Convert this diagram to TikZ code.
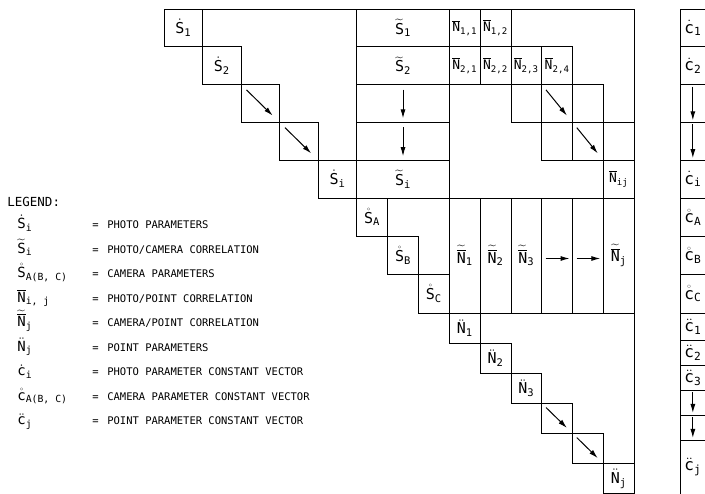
\documentclass[tikz,border=0pt]{standalone}
\usepackage{amsmath}
\usepackage{fontspec}
\setmonofont{DejaVu Sans Mono}
\usetikzlibrary{arrows.meta, calc}

\newcommand{\lbl}[3]{$#1{\text{\ttfamily #2}}_{\text{\ttfamily #3}}$}
\newcommand{\tovl}[1]{\widetilde{\overline{#1}}}

\begin{document}
\begin{tikzpicture}[x=1pt, y=-1pt, line width=0.7pt,
  box/.style={draw, inner sep=0pt, outer sep=0pt, anchor=north west,
    font=\fontsize{15}{17}\selectfont},
  pcell/.style={box, minimum width=38.54pt, minimum height=37.8pt},
  scell/.style={box, minimum width=92.6pt, minimum height=37.8pt},
  ncell/.style={box, minimum width=30.8pt, minimum height=37.8pt,
    font=\fontsize{13}{15}\selectfont},
  ccell/.style={box, minimum width=30.87pt, minimum height=38.33pt},
  wcell/.style={box, minimum width=30.8pt, minimum height=115pt},
  qcell/.style={box, minimum width=30.8pt, minimum height=30.1pt},
  vcell/.style={box, minimum width=24.3pt, minimum height=#1pt,
    font=\fontsize{16}{18}\selectfont},
  flow/.style={-{Latex[length=9pt,width=5pt]}, line width=1pt},
  legsym/.style={anchor=base west, inner sep=0pt, font=\fontsize{14}{16}\selectfont},
  legtxt/.style={anchor=base west, inner sep=0pt, font=\ttfamily\fontsize{10.5}{12}\selectfont},
]
\clip (0,0) rectangle (705,494);
% photo parameter diagonal
\foreach \k/\nm/\txt in {0/s1/{\lbl{\dot}{S}{1}}, 1/s2/{\lbl{\dot}{S}{2}},
  2/s3/{}, 3/s4/{}, 4/si/{\lbl{\dot}{S}{i}}}
  \node[pcell] (\nm) at ({164+\k*38.54},{9+\k*37.8}) {\txt};
% photo/camera column
\foreach \k/\nm/\txt in {0/t1/{\lbl{\widetilde}{S}{1}}, 1/t2/{\lbl{\widetilde}{S}{2}},
  2/t3/{}, 3/t4/{}, 4/ti/{\lbl{\widetilde}{S}{i}}}
  \node[scell] (\nm) at (356.7,{9+\k*37.8}) {\txt};
% photo/point band
\foreach \c/\r/\nm/\txt in {
  0/0/n11/{\lbl{\overline}{N}{1,1}}, 1/0/n12/{\lbl{\overline}{N}{1,2}},
  0/1/n21/{\lbl{\overline}{N}{2,1}}, 1/1/n22/{\lbl{\overline}{N}{2,2}},
  2/1/n23/{\lbl{\overline}{N}{2,3}}, 3/1/n24/{\lbl{\overline}{N}{2,4}},
  2/2/e33/{}, 3/2/a34/{}, 4/2/e35/{},
  3/3/e44/{}, 4/3/a45/{},
  5/4/nij/{\lbl{\overline}{N}{ij}}%
}
  \node[ncell] (\nm) at ({449.3+\c*30.8},{9+\r*37.8}) {\txt};
\draw (e35.south east) -- (e35.south east -| nij.east);
\draw (ti.south east) -- (nij.south west);
% camera parameter diagonal
\foreach \k/\nm/\txt in {0/sa/{\lbl{\mathring}{S}{A}}, 1/sb/{\lbl{\mathring}{S}{B}},
  2/sc/{\lbl{\mathring}{S}{C}}}
  \node[ccell] (\nm) at ({356.7+\k*30.87},{198+\k*38.33}) {\txt};
% camera/point columns
\foreach \c/\nm/\txt in {0/w1/{\lbl{\tovl}{N}{1}}, 1/w2/{\lbl{\tovl}{N}{2}},
  2/w3/{\lbl{\tovl}{N}{3}}, 3/w4/{}, 4/w5/{}, 5/wj/{\lbl{\tovl}{N}{j}}}
  \node[wcell] (\nm) at ({449.3+\c*30.8},198) {\txt};
% point parameter diagonal
\foreach \k/\nm/\txt in {0/q1/{\lbl{\ddot}{N}{1}}, 1/q2/{\lbl{\ddot}{N}{2}},
  2/q3/{\lbl{\ddot}{N}{3}}, 3/q4/{}, 4/q5/{}, 5/qj/{\lbl{\ddot}{N}{j}}}
  \node[qcell] (\nm) at ({449.3+\k*30.8},{313+\k*30.1}) {\txt};
% outer frame
\draw (s1.north west) -- (s1.north west -| qj.east) -- (qj.north east);
% constant vector
\foreach \y/\h/\nm/\txt in {
  9/37.8/v1/{\lbl{\dot}{c}{1}},
  46.8/37.8/v2/{\lbl{\dot}{c}{2}},
  84.6/37.8/v3/{},
  122.4/37.8/v4/{},
  160.2/37.8/vi/{\lbl{\dot}{c}{i}},
  198/38.33/va/{\lbl{\mathring}{c}{A}},
  236.33/38.33/vb/{\lbl{\mathring}{c}{B}},
  274.67/38.33/vc/{\lbl{\mathring}{c}{C}},
  313/27/u1/{\lbl{\ddot}{c}{1}},
  340/25/u2/{\lbl{\ddot}{c}{2}},
  365/25/u3/{\lbl{\ddot}{c}{3}},
  390/25/u4/{},
  415/25/u5/{},
  440/54/uj/{\lbl{\ddot}{c}{j}}%
}
  \node[vcell=\h] (\nm) at (680.7,\y) {\txt};
% arrows
\foreach \nm in {s3, s4, a34, a45, q4, q5}
  \draw[flow] ($(\nm.north west)!0.14!(\nm.south east)$) -- ($(\nm.north west)!0.82!(\nm.south east)$);
\foreach \nm in {t3, t4}
  \draw[flow] ($(\nm.north)+(0,5)$) -- ($(\nm.south)+(0,-4)$);
\foreach \nm in {v3, v4, u4, u5}
  \draw[flow] ($(\nm.north)+(0,2)$) -- ($(\nm.south)+(0,-2)$);
\foreach \nm in {w4, w5}
  \draw[flow] ($(\nm.west)+(4,3)$) -- ($(\nm.east)+(-3,3)$);
% legend
\node[legtxt, font=\ttfamily\fontsize{12.5}{14}\selectfont] (legend) at (7,207) {LEGEND:};
\foreach \k/\sym/\txt in {
  0/{\lbl{\dot}{S}{i}}/{PHOTO PARAMETERS},
  1/{\lbl{\widetilde}{S}{i}}/{PHOTO/CAMERA CORRELATION},
  2/{\lbl{\mathring}{S}{A(B, C)}}/{CAMERA PARAMETERS},
  3/{\lbl{\overline}{N}{i, j}}/{PHOTO/POINT CORRELATION},
  4/{\lbl{\tovl}{N}{j}}/{CAMERA/POINT CORRELATION},
  5/{\lbl{\ddot}{N}{j}}/{POINT PARAMETERS},
  6/{\lbl{\dot}{c}{i}}/{PHOTO PARAMETER CONSTANT VECTOR},
  7/{\lbl{\mathring}{c}{A(B, C)}}/{CAMERA PARAMETER CONSTANT VECTOR},
  8/{\lbl{\ddot}{c}{j}}/{POINT PARAMETER CONSTANT VECTOR}%
}{
  \node[legsym] (sym\k) at (17,{229+\k*24.5}) {\sym};
  \node[legtxt] (eq\k) at (92,{229+\k*24.5}) {=};
  \node[legtxt] (txt\k) at (107,{229+\k*24.5}) {\txt};
}
\end{tikzpicture}
\end{document}
